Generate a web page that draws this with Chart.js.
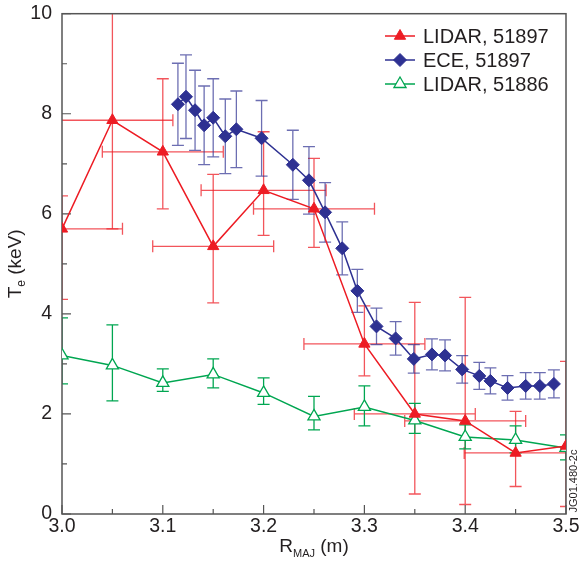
<!DOCTYPE html>
<html lang="en">
<head>
  <meta charset="UTF-8">
  <title>Te profiles - LIDAR / ECE</title>
  <script src="https://cdn.jsdelivr.net/npm/chart.js@4.4.0/dist/chart.umd.min.js"></script>
  <style>
    html, body { margin: 0; padding: 0; background: #fff; }
    #wrap { width: 583px; height: 562px; }
  </style>
</head>
<body>
  <div id="wrap"><canvas id="teChart" width="583" height="562"></canvas></div>
  <script>
    const FONT = "'Liberation Sans', Arial, Helvetica, sans-serif";
    const INK = "#231f20";
    const RED = "#ed1c24";
    const NAVY = "#2e3192";
    const GREEN = "#00a651";

    const xTicks = [3.0, 3.1, 3.2, 3.3, 3.4, 3.5];
    const xMinorTicks = [3.05, 3.15, 3.25, 3.35, 3.45];
    const yTicks = [0, 2, 4, 6, 8, 10];
    const yMinorTicks = [1, 3, 5, 7, 9];

    const seriesNames = ["LIDAR, 51897", "ECE, 51897", "LIDAR, 51886"];

    // LIDAR, shot 51897
    const lidarR = [3.0, 3.05, 3.1, 3.15, 3.2, 3.25, 3.3, 3.35, 3.4, 3.45, 3.5];
    const lidarTe = [5.70, 7.87, 7.24, 5.35, 6.47, 6.10, 3.40, 2.00, 1.86, 1.22, 1.36];
    const lidarLow = [4.29, 5.70, 6.10, 4.22, 5.57, 5.33, 2.76, 0.40, 0.19, 0.55, 0.15];
    const lidarHigh = [6.36, 10.1, 8.70, 6.79, 7.64, 7.11, 4.16, 4.23, 4.33, 2.05, 3.05];
    const lidarRErr = [0.06, 0.06, 0.06, 0.06, 0.062, 0.06, 0.06, 0.06, 0.06, 0.051, 0];

    // ECE, shot 51897
    const eceR = [3.115, 3.123, 3.132, 3.141, 3.150, 3.162, 3.173, 3.198, 3.229, 3.245, 3.261, 3.278, 3.293,
                  3.312, 3.331, 3.349, 3.367, 3.380, 3.397, 3.414, 3.425, 3.442, 3.460, 3.474, 3.488];
    const eceTe = [8.19, 8.34, 8.07, 7.77, 7.92, 7.55, 7.69, 7.51, 6.98, 6.67, 6.03, 5.31, 4.46,
                   3.75, 3.51, 3.10, 3.19, 3.17, 2.89, 2.76, 2.66, 2.52, 2.56, 2.56, 2.60];
    const eceErr = [0.82, 0.835, 0.80, 0.785, 0.78, 0.745, 0.765, 0.755, 0.69, 0.675, 0.595, 0.53, 0.43,
                    0.365, 0.335, 0.285, 0.31, 0.31, 0.275, 0.27, 0.26, 0.245, 0.265, 0.265, 0.28];

    // LIDAR, shot 51886
    const lidar2R = [3.0, 3.05, 3.1, 3.15, 3.2, 3.25, 3.3, 3.35, 3.4, 3.45, 3.5];
    const lidar2Te = [3.17, 2.97, 2.62, 2.79, 2.42, 1.95, 2.14, 1.87, 1.54, 1.48, 1.32];
    const lidar2Low = [2.60, 2.26, 2.45, 2.52, 2.19, 1.68, 1.76, 1.61, 1.30, 1.22, 1.08];
    const lidar2High = [3.92, 3.78, 2.90, 3.10, 2.72, 2.35, 2.56, 2.21, 1.78, 1.76, 1.58];

    const toPoints = (xs, ys) => xs.map((x, i) => ({ x: x, y: ys[i] }));

    const datasets = [
      {
        label: seriesNames[0],
        data: toPoints(lidarR, lidarTe),
        errs: lidarR.map((_, i) => ({ lo: lidarLow[i], hi: lidarHigh[i], xe: lidarRErr[i] })),
        errColor: "rgba(237,28,36,0.75)",
        borderColor: RED, borderWidth: 1.5, showLine: true,
        pointStyle: "triangle", pointRadius: 6.5, pointBackgroundColor: RED,
        pointBorderColor: RED, pointBorderWidth: 1, clip: 0
      },
      {
        label: seriesNames[1],
        data: toPoints(eceR, eceTe),
        errs: eceR.map((_, i) => ({ lo: eceTe[i] - eceErr[i], hi: eceTe[i] + eceErr[i], xe: 0 })),
        errColor: "rgba(46,49,146,0.7)",
        borderColor: NAVY, borderWidth: 1.5, showLine: true,
        pointStyle: "rectRot", pointRadius: 6.5, pointBackgroundColor: NAVY,
        pointBorderColor: NAVY, pointBorderWidth: 1, clip: 0
      },
      {
        label: seriesNames[2],
        data: toPoints(lidar2R, lidar2Te),
        errs: lidar2R.map((_, i) => ({ lo: lidar2Low[i], hi: lidar2High[i], xe: 0 })),
        errColor: GREEN,
        borderColor: GREEN, borderWidth: 1.5, showLine: true,
        pointStyle: "triangle", pointRadius: 7, pointBackgroundColor: "#fff",
        pointBorderColor: GREEN, pointBorderWidth: 1.3, clip: 0
      }
    ];

    // error bars, drawn under the markers
    const errorBars = {
      id: "errorBars",
      beforeDatasetsDraw(chart) {
        const { ctx, chartArea: a, scales: { x, y } } = chart;
        const cap = 6;
        ctx.save();
        ctx.beginPath();
        ctx.rect(a.left, a.top, a.right - a.left, a.bottom - a.top);
        ctx.clip();
        ctx.lineWidth = 1.3;
        chart.data.datasets.forEach(ds => {
          ctx.strokeStyle = ds.errColor;
          ds.data.forEach((p, i) => {
            const e = ds.errs[i];
            const px = x.getPixelForValue(p.x);
            const py = y.getPixelForValue(p.y);
            const top = y.getPixelForValue(e.hi);
            const bot = y.getPixelForValue(e.lo);
            ctx.beginPath();
            ctx.moveTo(px, top); ctx.lineTo(px, bot);
            ctx.moveTo(px - cap, top); ctx.lineTo(px + cap, top);
            ctx.moveTo(px - cap, bot); ctx.lineTo(px + cap, bot);
            if (e.xe) {
              const l = x.getPixelForValue(p.x - e.xe);
              const r = x.getPixelForValue(p.x + e.xe);
              ctx.moveTo(l, py); ctx.lineTo(r, py);
              ctx.moveTo(l, py - cap); ctx.lineTo(l, py + cap);
              ctx.moveTo(r, py - cap); ctx.lineTo(r, py + cap);
            }
            ctx.stroke();
          });
        });
        ctx.restore();
      }
    };

    // frame, inward ticks, axis titles and legend
    const decorations = {
      id: "decorations",
      beforeDatasetsDraw(chart) {
        const { ctx, chartArea: a, scales: { x, y } } = chart;
        ctx.save();
        ctx.strokeStyle = "#555";
        ctx.lineWidth = 1.2;
        ctx.beginPath();
        xTicks.forEach(v => { const px = x.getPixelForValue(v); ctx.moveTo(px, a.bottom); ctx.lineTo(px, a.bottom - 9); });
        xMinorTicks.forEach(v => { const px = x.getPixelForValue(v); ctx.moveTo(px, a.bottom); ctx.lineTo(px, a.bottom - 5); });
        yTicks.forEach(v => { const py = y.getPixelForValue(v); ctx.moveTo(a.left, py); ctx.lineTo(a.left + 9, py); });
        yMinorTicks.forEach(v => { const py = y.getPixelForValue(v); ctx.moveTo(a.left, py); ctx.lineTo(a.left + 5, py); });
        ctx.stroke();
        ctx.lineWidth = 1.5;
        ctx.strokeRect(a.left, a.top, a.right - a.left, a.bottom - a.top);
        ctx.restore();
      },
      afterDraw(chart) {
        const { ctx, chartArea: a } = chart;
        ctx.save();
        ctx.fillStyle = INK;
        ctx.textBaseline = "alphabetic";

        // x title: R_MAJ (m)
        const big = "19px " + FONT, small = "11px " + FONT;
        ctx.font = big; const wR = ctx.measureText("R").width; const wM = ctx.measureText(" (m)").width;
        ctx.font = small; const wS = ctx.measureText("MAJ").width;
        let tx = (a.left + a.right) / 2 - (wR + wS + wM) / 2;
        ctx.textAlign = "left";
        ctx.font = big; ctx.fillText("R", tx, 552);
        ctx.font = small; ctx.fillText("MAJ", tx + wR, 557);
        ctx.font = big; ctx.fillText(" (m)", tx + wR + wS, 552);

        // y title: T_e (keV)
        ctx.save();
        ctx.translate(20.5, (a.top + a.bottom) / 2);
        ctx.rotate(-Math.PI / 2);
        ctx.font = big; const wT = ctx.measureText("T").width; const wK = ctx.measureText(" (keV)").width;
        ctx.font = "12px " + FONT; const wE = ctx.measureText("e").width;
        tx = -(wT + wE + wK) / 2;
        ctx.font = big; ctx.fillText("T", tx, 0);
        ctx.font = "12px " + FONT; ctx.fillText("e", tx + wT, 4);
        ctx.font = big; ctx.fillText(" (keV)", tx + wT + wE, 0);
        ctx.restore();

        // figure id along the right edge
        ctx.save();
        ctx.translate(577, 481);
        ctx.rotate(-Math.PI / 2);
        ctx.font = "11px " + FONT;
        ctx.textAlign = "center";
        ctx.fillText("JG01.480-2c", 0, 0);
        ctx.restore();

        // legend
        const rows = [36, 60, 84];
        chart.data.datasets.forEach((ds, i) => {
          const ly = rows[i];
          ctx.strokeStyle = ds.borderColor;
          ctx.lineWidth = 1.5;
          ctx.beginPath(); ctx.moveTo(385, ly); ctx.lineTo(415, ly); ctx.stroke();
          ctx.fillStyle = ds.pointBackgroundColor;
          ctx.strokeStyle = ds.pointBorderColor;
          ctx.lineWidth = ds.pointBorderWidth;
          Chart.helpers.drawPoint(ctx, { pointStyle: ds.pointStyle, radius: ds.pointRadius, rotation: 0, borderWidth: ds.pointBorderWidth }, 400, ly);
          ctx.fillStyle = INK;
          ctx.font = "20px " + FONT;
          ctx.textAlign = "left";
          ctx.textBaseline = "middle";
          ctx.fillText(ds.label, 423, ly + 1);
        });
        ctx.restore();
      }
    };

    new Chart(document.getElementById("teChart"), {
      type: "scatter",
      data: { datasets: datasets },
      options: {
        responsive: false,
        animation: false,
        events: [],
        layout: { padding: { top: 11, right: 17, left: 0, bottom: 0 } },
        plugins: { legend: { display: false }, tooltip: { enabled: false } },
        scales: {
          x: {
            type: "linear", min: 3.0, max: 3.5,
            afterBuildTicks: s => { s.ticks = xTicks.map(v => ({ value: v })); },
            afterFit: s => { s.height = 48; },
            grid: { display: false }, border: { display: false },
            ticks: { font: { family: FONT, size: 19.5 }, color: INK, padding: -7, maxRotation: 0, autoSkip: false,
                     callback: v => Number(v).toFixed(1) }
          },
          y: {
            type: "linear", min: 0, max: 10,
            afterBuildTicks: s => { s.ticks = yTicks.map(v => ({ value: v })); },
            afterFit: s => { s.width = 62; },
            grid: { display: false }, border: { display: false },
            ticks: { font: { family: FONT, size: 19.5 }, color: INK, padding: 2, autoSkip: false,
                     callback: v => String(v) }
          }
        }
      },
      plugins: [errorBars, decorations]
    });
  </script>
</body>
</html>
